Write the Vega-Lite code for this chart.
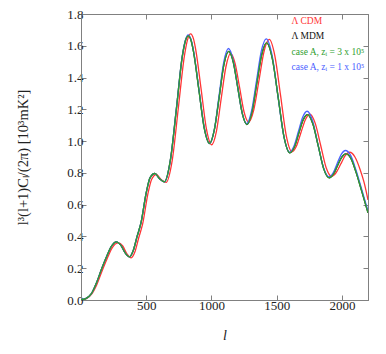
{
  "$schema": "https://vega.github.io/schema/vega-lite/v6.json",
  "autosize": "none",
  "width": 287,
  "height": 286,
  "padding": {"left": 81, "top": 14, "right": 18, "bottom": 54},
  "background": "white",
  "config": {
    "view": {"stroke": "#808080", "strokeWidth": 1},
    "font": "Liberation Serif",
    "axis": {
      "grid": false,
      "domainColor": "#808080",
      "tickColor": "#808080",
      "tickSize": -5,
      "labelFont": "Liberation Serif",
      "labelFontSize": 13,
      "labelColor": "#222222",
      "titleFont": "Liberation Serif",
      "titleFontWeight": "normal",
      "titleColor": "#222222"
    }
  },
  "data": {
    "values": [
      {"s":"K","l":0,"v":0},{"s":"K","l":40,"v":0.01},{"s":"K","l":80,"v":0.04},{"s":"K","l":120,"v":0.11},{"s":"K","l":160,"v":0.2},{"s":"K","l":200,"v":0.28},{"s":"K","l":235,"v":0.34},{"s":"K","l":270,"v":0.366},{"s":"K","l":305,"v":0.345},{"s":"K","l":340,"v":0.295},{"s":"K","l":372,"v":0.272},{"s":"K","l":400,"v":0.31},{"s":"K","l":430,"v":0.4},{"s":"K","l":461,"v":0.49},{"s":"K","l":500,"v":0.675},{"s":"K","l":530,"v":0.77},{"s":"K","l":566,"v":0.796},{"s":"K","l":600,"v":0.765},{"s":"K","l":640,"v":0.744},{"s":"K","l":685,"v":0.88},{"s":"K","l":731,"v":1.2},{"s":"K","l":776,"v":1.53},{"s":"K","l":800,"v":1.63},{"s":"K","l":822,"v":1.662},{"s":"K","l":845,"v":1.63},{"s":"K","l":863,"v":1.56},{"s":"K","l":904,"v":1.32},{"s":"K","l":945,"v":1.08},{"s":"K","l":986,"v":0.985},{"s":"K","l":1022,"v":1.07},{"s":"K","l":1059,"v":1.275},{"s":"K","l":1095,"v":1.48},{"s":"K","l":1132,"v":1.565},{"s":"K","l":1167,"v":1.498},{"s":"K","l":1202,"v":1.335},{"s":"K","l":1237,"v":1.171},{"s":"K","l":1272,"v":1.104},{"s":"K","l":1310,"v":1.179},{"s":"K","l":1347,"v":1.361},{"s":"K","l":1385,"v":1.543},{"s":"K","l":1423,"v":1.618},{"s":"K","l":1467,"v":1.517},{"s":"K","l":1512,"v":1.272},{"s":"K","l":1556,"v":1.027},{"s":"K","l":1601,"v":0.926},{"s":"K","l":1635,"v":0.961},{"s":"K","l":1668,"v":1.046},{"s":"K","l":1702,"v":1.132},{"s":"K","l":1736,"v":1.167},{"s":"K","l":1777,"v":1.109},{"s":"K","l":1819,"v":0.968},{"s":"K","l":1860,"v":0.827},{"s":"K","l":1902,"v":0.769},{"s":"K","l":1934,"v":0.791},{"s":"K","l":1966,"v":0.845},{"s":"K","l":1998,"v":0.898},{"s":"K","l":2030,"v":0.92},{"s":"K","l":2070,"v":0.89},{"s":"K","l":2110,"v":0.8},{"s":"K","l":2150,"v":0.69},{"s":"K","l":2200,"v":0.549},

      {"s":"R","l":0,"v":0},{"s":"R","l":40,"v":0.008},{"s":"R","l":80,"v":0.035},{"s":"R","l":120,"v":0.095},{"s":"R","l":160,"v":0.18},{"s":"R","l":200,"v":0.26},{"s":"R","l":240,"v":0.33},{"s":"R","l":285,"v":0.36},{"s":"R","l":320,"v":0.34},{"s":"R","l":352,"v":0.29},{"s":"R","l":385,"v":0.265},{"s":"R","l":412,"v":0.3},{"s":"R","l":442,"v":0.39},{"s":"R","l":473,"v":0.48},{"s":"R","l":512,"v":0.665},{"s":"R","l":542,"v":0.76},{"s":"R","l":578,"v":0.79},{"s":"R","l":612,"v":0.76},{"s":"R","l":652,"v":0.74},{"s":"R","l":699,"v":0.877},{"s":"R","l":746,"v":1.207},{"s":"R","l":793,"v":1.538},{"s":"R","l":818,"v":1.642},{"s":"R","l":840,"v":1.675},{"s":"R","l":863,"v":1.642},{"s":"R","l":880,"v":1.573},{"s":"R","l":921,"v":1.326},{"s":"R","l":961,"v":1.079},{"s":"R","l":1002,"v":0.977},{"s":"R","l":1038,"v":1.061},{"s":"R","l":1074,"v":1.264},{"s":"R","l":1111,"v":1.468},{"s":"R","l":1147,"v":1.552},{"s":"R","l":1181,"v":1.489},{"s":"R","l":1216,"v":1.336},{"s":"R","l":1250,"v":1.183},{"s":"R","l":1285,"v":1.12},{"s":"R","l":1324,"v":1.196},{"s":"R","l":1364,"v":1.38},{"s":"R","l":1403,"v":1.564},{"s":"R","l":1443,"v":1.64},{"s":"R","l":1486,"v":1.537},{"s":"R","l":1530,"v":1.286},{"s":"R","l":1573,"v":1.036},{"s":"R","l":1617,"v":0.933},{"s":"R","l":1651,"v":0.968},{"s":"R","l":1685,"v":1.051},{"s":"R","l":1720,"v":1.135},{"s":"R","l":1754,"v":1.17},{"s":"R","l":1795,"v":1.113},{"s":"R","l":1837,"v":0.974},{"s":"R","l":1878,"v":0.836},{"s":"R","l":1920,"v":0.779},{"s":"R","l":1955,"v":0.801},{"s":"R","l":1990,"v":0.854},{"s":"R","l":2025,"v":0.908},{"s":"R","l":2060,"v":0.93},{"s":"R","l":2100,"v":0.9},{"s":"R","l":2140,"v":0.82},{"s":"R","l":2170,"v":0.74},{"s":"R","l":2200,"v":0.63},

      {"s":"B","l":0,"v":0},{"s":"B","l":40,"v":0.01},{"s":"B","l":80,"v":0.04},{"s":"B","l":120,"v":0.11},{"s":"B","l":160,"v":0.2},{"s":"B","l":200,"v":0.28},{"s":"B","l":235,"v":0.34},{"s":"B","l":270,"v":0.366},{"s":"B","l":305,"v":0.345},{"s":"B","l":340,"v":0.295},{"s":"B","l":372,"v":0.272},{"s":"B","l":400,"v":0.31},{"s":"B","l":430,"v":0.4},{"s":"B","l":461,"v":0.49},{"s":"B","l":500,"v":0.675},{"s":"B","l":530,"v":0.77},{"s":"B","l":566,"v":0.796},{"s":"B","l":600,"v":0.765},{"s":"B","l":640,"v":0.744},{"s":"B","l":685,"v":0.879},{"s":"B","l":731,"v":1.206},{"s":"B","l":776,"v":1.533},{"s":"B","l":800,"v":1.635},{"s":"B","l":822,"v":1.668},{"s":"B","l":845,"v":1.635},{"s":"B","l":863,"v":1.568},{"s":"B","l":904,"v":1.326},{"s":"B","l":945,"v":1.085},{"s":"B","l":986,"v":0.985},{"s":"B","l":1022,"v":1.072},{"s":"B","l":1058,"v":1.284},{"s":"B","l":1094,"v":1.496},{"s":"B","l":1130,"v":1.583},{"s":"B","l":1165,"v":1.514},{"s":"B","l":1200,"v":1.346},{"s":"B","l":1235,"v":1.179},{"s":"B","l":1270,"v":1.11},{"s":"B","l":1307,"v":1.188},{"s":"B","l":1345,"v":1.377},{"s":"B","l":1382,"v":1.566},{"s":"B","l":1420,"v":1.644},{"s":"B","l":1465,"v":1.54},{"s":"B","l":1509,"v":1.287},{"s":"B","l":1554,"v":1.034},{"s":"B","l":1599,"v":0.93},{"s":"B","l":1632,"v":0.968},{"s":"B","l":1666,"v":1.059},{"s":"B","l":1699,"v":1.15},{"s":"B","l":1733,"v":1.188},{"s":"B","l":1775,"v":1.128},{"s":"B","l":1816,"v":0.981},{"s":"B","l":1858,"v":0.835},{"s":"B","l":1900,"v":0.775},{"s":"B","l":1932,"v":0.799},{"s":"B","l":1963,"v":0.858},{"s":"B","l":1995,"v":0.917},{"s":"B","l":2027,"v":0.941},{"s":"B","l":2067,"v":0.91},{"s":"B","l":2107,"v":0.82},{"s":"B","l":2147,"v":0.71},{"s":"B","l":2200,"v":0.56},

      {"s":"G","l":0,"v":0},{"s":"G","l":40,"v":0.01},{"s":"G","l":80,"v":0.04},{"s":"G","l":120,"v":0.11},{"s":"G","l":160,"v":0.2},{"s":"G","l":200,"v":0.28},{"s":"G","l":235,"v":0.34},{"s":"G","l":270,"v":0.366},{"s":"G","l":305,"v":0.345},{"s":"G","l":340,"v":0.295},{"s":"G","l":372,"v":0.272},{"s":"G","l":400,"v":0.31},{"s":"G","l":430,"v":0.4},{"s":"G","l":461,"v":0.49},{"s":"G","l":500,"v":0.675},{"s":"G","l":530,"v":0.77},{"s":"G","l":566,"v":0.796},{"s":"G","l":600,"v":0.765},{"s":"G","l":640,"v":0.744},{"s":"G","l":685,"v":0.88},{"s":"G","l":731,"v":1.2},{"s":"G","l":776,"v":1.53},{"s":"G","l":800,"v":1.63},{"s":"G","l":822,"v":1.662},{"s":"G","l":845,"v":1.63},{"s":"G","l":863,"v":1.56},{"s":"G","l":904,"v":1.32},{"s":"G","l":945,"v":1.08},{"s":"G","l":986,"v":0.985},{"s":"G","l":1022,"v":1.07},{"s":"G","l":1059,"v":1.275},{"s":"G","l":1095,"v":1.48},{"s":"G","l":1132,"v":1.565},{"s":"G","l":1167,"v":1.498},{"s":"G","l":1202,"v":1.335},{"s":"G","l":1237,"v":1.171},{"s":"G","l":1272,"v":1.104},{"s":"G","l":1310,"v":1.179},{"s":"G","l":1347,"v":1.361},{"s":"G","l":1385,"v":1.543},{"s":"G","l":1423,"v":1.618},{"s":"G","l":1467,"v":1.517},{"s":"G","l":1512,"v":1.272},{"s":"G","l":1556,"v":1.027},{"s":"G","l":1601,"v":0.926},{"s":"G","l":1635,"v":0.961},{"s":"G","l":1668,"v":1.046},{"s":"G","l":1702,"v":1.132},{"s":"G","l":1736,"v":1.167},{"s":"G","l":1777,"v":1.109},{"s":"G","l":1819,"v":0.968},{"s":"G","l":1860,"v":0.827},{"s":"G","l":1902,"v":0.769},{"s":"G","l":1934,"v":0.791},{"s":"G","l":1966,"v":0.845},{"s":"G","l":1998,"v":0.898},{"s":"G","l":2030,"v":0.92},{"s":"G","l":2070,"v":0.89},{"s":"G","l":2110,"v":0.8},{"s":"G","l":2150,"v":0.69},{"s":"G","l":2200,"v":0.549}
    ]
  },
  "layer": [
    {
      "mark": {"type": "line", "interpolate": "monotone", "strokeWidth": 1.3, "clip": true},
      "encoding": {
        "x": {"field": "l", "type": "quantitative",
              "scale": {"domain": [0, 2200], "nice": false},
              "axis": {"values": [500, 1000, 1500, 2000], "format": "d", "title": "l", "titleFontStyle": "italic", "titleFontSize": 14, "titlePadding": 16, "labelPadding": 4}},
        "y": {"field": "v", "type": "quantitative",
              "scale": {"domain": [0, 1.8], "nice": false},
              "axis": {"values": [0, 0.2, 0.4, 0.6, 0.8, 1.0, 1.2, 1.4, 1.6, 1.8], "format": ".1f", "title": "l³(l+1)Cₗ/(2π) [10³mK²]", "titleFontSize": 14.5, "titlePadding": 36, "labelPadding": 3}},
        "color": {"field": "s", "type": "nominal",
                  "scale": {"domain": ["R", "K", "G", "B"], "range": ["#ff3535", "#111111", "#2f9e2f", "#4a60ff"]},
                  "legend": {
                    "orient": "none", "legendX": 201, "legendY": 2,
                    "title": null, "symbolSize": 0, "symbolOpacity": 0, "symbolStrokeWidth": 0,
                    "labelOffset": 0, "labelFont": "Liberation Serif", "labelFontSize": 9.5, "rowPadding": 4.5,
                    "labelExpr": "datum.value == 'R' ? 'Λ CDM' : datum.value == 'K' ? 'Λ MDM' : datum.value == 'G' ? 'case A, zᵢ = 3 x 10⁵' : 'case A, zᵢ = 1 x 10⁵'",
                    "encode": {"labels": {"update": {"fill": {"scale": "color", "field": "value"}}}}
                  }}
      }
    },
    {
      "mark": {"type": "line", "opacity": 0},
      "encoding": {
        "x": {"field": "l", "type": "quantitative",
              "axis": {"orient": "top", "values": [500, 1000, 1500, 2000], "labels": false, "title": null}},
        "y": {"field": "v", "type": "quantitative",
              "axis": {"orient": "right", "values": [0, 0.2, 0.4, 0.6, 0.8, 1.0, 1.2, 1.4, 1.6, 1.8], "labels": false, "title": null}}
      }
    }
  ],
  "resolve": {"axis": {"x": "independent", "y": "independent"}}
}
